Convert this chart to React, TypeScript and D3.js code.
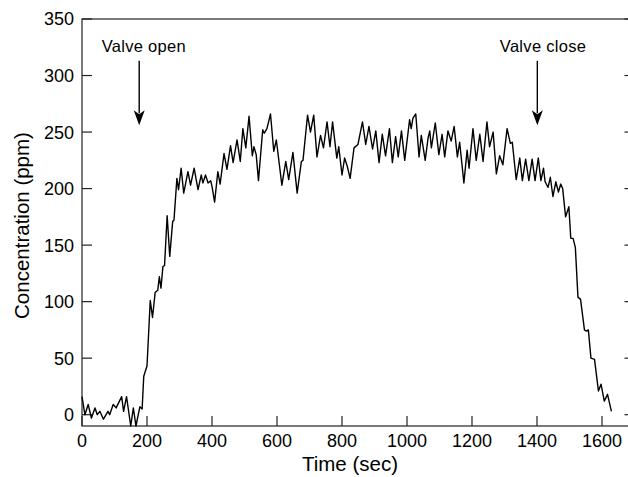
import React from "react";
import * as d3 from "d3";

const timeSec: number[] = [
  0, 9, 19, 29, 40, 47, 55, 66, 80, 85, 96, 105, 122, 128, 137, 150, 158, 166, 178, 185, 190, 200, 210, 217, 225, 233, 238, 243, 249, 254, 262, 270, 279, 283, 292, 297, 305, 313, 326, 334, 345, 357, 367, 372, 380, 388, 396, 400, 408, 418, 425, 437, 446, 457, 465, 477, 487, 495, 504, 514, 524, 529, 536, 543, 556, 561, 569, 580, 590, 598, 615, 627, 636, 649, 662, 675, 680, 694, 703, 713, 723, 734, 743, 754, 763, 771, 784, 790, 800, 808, 816, 825, 837, 849, 863, 873, 883, 894, 904, 914, 924, 934, 946, 955, 965, 973, 983, 993, 1008, 1013, 1018, 1027, 1037, 1044, 1056, 1065, 1070, 1075, 1087, 1098, 1108, 1116, 1126, 1136, 1145, 1155, 1162, 1175, 1185, 1191, 1203, 1213, 1224, 1234, 1246, 1254, 1265, 1275, 1285, 1295, 1308, 1318, 1324, 1336, 1347, 1355, 1365, 1375, 1385, 1394, 1404, 1412, 1420, 1425, 1434, 1441, 1449, 1458, 1466, 1473, 1479, 1488, 1498, 1504, 1511, 1518, 1526, 1534, 1546, 1551, 1558, 1566, 1577, 1589, 1597, 1607, 1617, 1629,
];

const concentrationPpm: number[] = [
  16, 0, 9, -3, 6, 0, 3, -4, 3, 0, 9, 6, 16, 3, 16, -10, 6, -10, 7, 5, 34, 43, 101, 86, 108, 110, 122, 112, 131, 132, 176, 140, 171, 172, 209, 199, 218, 196, 215, 203, 218, 199, 212, 205, 212, 205, 207, 202, 188, 215, 204, 231, 217, 238, 223, 243, 224, 253, 236, 264, 229, 237, 230, 207, 252, 249, 253, 266, 233, 243, 203, 224, 208, 232, 196, 224, 225, 265, 250, 265, 228, 247, 236, 259, 237, 259, 227, 237, 212, 227, 220, 209, 236, 239, 259, 239, 255, 235, 251, 223, 248, 229, 253, 223, 246, 228, 251, 225, 261, 253, 262, 266, 228, 247, 225, 245, 251, 236, 258, 230, 248, 228, 251, 242, 255, 228, 241, 205, 234, 218, 253, 225, 248, 224, 259, 237, 250, 213, 229, 221, 253, 240, 241, 208, 227, 207, 226, 207, 226, 207, 227, 207, 218, 206, 201, 210, 193, 206, 197, 204, 200, 175, 184, 156, 156, 148, 104, 102, 75, 74, 75, 50, 49, 21, 27, 12, 18, 3,
];

const xTicks: number[] = [0, 200, 400, 600, 800, 1000, 1200, 1400, 1600];
const yTicks: number[] = [0, 50, 100, 150, 200, 250, 300, 350];

const annotationLabels: string[] = ["Valve open", "Valve close"];
const annotationTimes: number[] = [176, 1401];

const W = 628;
const H = 477;
const left = 82;
const right = 634.5;
const top = 19;
const bottom = 426;

export default function App() {
  const x = d3.scaleLinear().domain([0, 1700]).range([left, right]);
  const y = d3.scaleLinear().domain([-10, 350]).range([bottom, top]);
  const pts: [number, number][] = timeSec.map((t, i) => [t, concentrationPpm[i]]);
  const line = d3
    .line<[number, number]>()
    .x((d) => x(d[0]))
    .y((d) => y(d[1]));
  const font = "'Liberation Sans', Arial, Helvetica, sans-serif";
  const axisColor = "#222";
  const tickLen = 10;

  return (
    <svg
      width={W}
      height={H}
      style={{ position: "absolute", left: 0, top: 0, background: "#fff" }}
      fontFamily={font}
    >
      <rect x={0} y={0} width={W} height={H} fill="#fff" />
      <rect
        x={left}
        y={top}
        width={right - left}
        height={bottom - top}
        fill="none"
        stroke={axisColor}
        strokeWidth={1.2}
      />
      {xTicks.map((t) => (
        <g key={"xt" + t}>
          <line x1={x(t)} x2={x(t)} y1={bottom} y2={bottom - tickLen} stroke={axisColor} strokeWidth={1.2} />
          <text x={x(t)} y={447} fontSize={18} textAnchor="middle" fill="#000">
            {t}
          </text>
        </g>
      ))}
      {yTicks.map((t) => (
        <g key={"yt" + t}>
          <line x1={left} x2={left + tickLen} y1={y(t)} y2={y(t)} stroke={axisColor} strokeWidth={1.2} />
          <line x1={right} x2={right - tickLen} y1={y(t)} y2={y(t)} stroke={axisColor} strokeWidth={1.2} />
          <text x={74} y={y(t)} dy="0.36em" fontSize={18} textAnchor="end" fill="#000">
            {t}
          </text>
        </g>
      ))}
      <path d={line(pts) || ""} fill="none" stroke="#000" strokeWidth={1.4} strokeLinejoin="round" />
      {annotationLabels.map((lab, i) => {
        const ax = x(annotationTimes[i]);
        const y0 = y(313);
        const y1 = y(256);
        return (
          <g key={lab}>
            <text x={ax - 37.5} y={51.5} fontSize={16.5} letterSpacing={0.3} fill="#000">
              {lab}
            </text>
            <line x1={ax} x2={ax} y1={y0} y2={y1 - 12} stroke="#000" strokeWidth={1.4} />
            <path
              d={`M${ax - 5.5},${y1 - 15} L${ax},${y1 - 11} L${ax + 5.5},${y1 - 15} L${ax},${y1} Z`}
              fill="#000"
            />
          </g>
        );
      })}
      <text x={350} y={471} fontSize={20.5} textAnchor="middle" fill="#000">
        Time (sec)
      </text>
      <text
        transform={`translate(29,${(top + bottom) / 2 + 3}) rotate(-90)`}
        fontSize={20.5}
        textAnchor="middle"
        fill="#000"
      >
        Concentration (ppm)
      </text>
    </svg>
  );
}
